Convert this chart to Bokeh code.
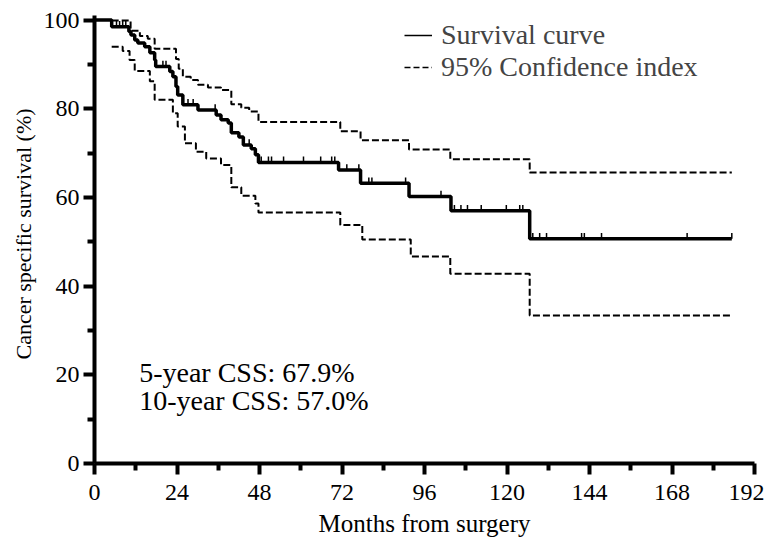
import numpy as np
from bokeh.plotting import figure
from bokeh.models import Range1d, FixedTicker, Legend, LegendItem, Label
from bokeh.embed import file_html
from bokeh.resources import INLINE

# ---- data ----
surv_t = [0, 5.0, 10.0, 10.6, 11.7, 12.6, 14.6, 16.1, 17.5, 17.8, 21.9, 22.8, 23.7, 24.2,
          25.7, 30.1, 35.4, 36.8, 38.9, 39.8, 42.0, 43.3, 45.6, 46.8, 47.7, 71.0, 77.4,
          91.5, 103.7, 126.6, 185.4]
surv_s = [100, 98.5, 97.4, 96.6, 95.5, 94.8, 94.0, 92.6, 91.0, 89.5, 88.4, 87.2, 85.0, 83.1,
          80.9, 79.7, 78.6, 77.5, 76.8, 74.6, 73.6, 71.8, 71.0, 69.6, 67.9, 66.2, 63.2,
          60.2, 57.0, 50.7, 50.7]

upper_t = [5.0, 10.5, 13.2, 15.5, 17.5, 23.7, 24.5, 25.7, 28.0, 30.1, 33.0, 36.8, 39.8,
           42.7, 45.0, 47.7, 71.5, 77.4, 91.5, 103.5, 126.6, 185.4]
upper_s = [99.9, 97.6, 96.4, 95.8, 93.5, 91.2, 89.0, 87.2, 86.5, 85.4, 84.8, 84.2, 81.0,
           80.2, 79.4, 77.0, 74.9, 72.9, 70.8, 68.6, 65.6, 65.6]

lower_t = [5.0, 8.2, 10.2, 11.7, 16.1, 17.5, 22.8, 24.2, 26.3, 29.5, 32.5, 36.8, 39.8,
           42.7, 46.8, 47.7, 71.5, 77.9, 92.0, 103.5, 126.6, 185.4]
lower_s = [94.0, 93.0, 91.0, 88.5, 86.2, 82.0, 79.0, 76.0, 72.2, 70.3, 68.8, 67.3, 62.3,
           60.4, 58.6, 56.6, 53.8, 50.5, 46.7, 42.8, 33.4, 33.4]

censor_t = [6.4, 7.3, 8.2, 9.1, 19.9, 20.8, 27.2, 28.7, 35.1, 45.0, 48.5, 50.6, 51.5, 55.0,
            60.8, 65.8, 69.0, 69.9, 73.4, 76.9, 79.8, 80.7, 90.5, 100.8, 104.7, 106.6,
            108.5, 112.5, 119.8, 123.7, 124.6, 127.5, 129.5, 131.5, 141.7, 142.5, 147.5,
            172.4, 185.4]

x_ticks = [0, 24, 48, 72, 96, 120, 144, 168, 192]
x_minor = [12, 36, 60, 84, 108, 132, 156, 180]
y_ticks = [0, 20, 40, 60, 80, 100]
y_minor = [10, 30, 50, 70, 90]

legend_labels = ["Survival curve", "95% Confidence index"]
notes = ["5-year CSS: 67.9%", "10-year CSS: 57.0%"]
note_y = [20.5, 14.2]

FONT = "Liberation Serif"

p = figure(width=764, height=540, output_backend="svg", toolbar_location=None,
           x_range=Range1d(0, 192), y_range=Range1d(0, 103.5),
           min_border_left=94, min_border_right=10, min_border_top=4, min_border_bottom=77)
p.outline_line_color = None
p.xgrid.visible = False
p.ygrid.visible = False
p.background_fill_color = "white"
p.border_fill_color = "white"

p.xaxis.ticker = FixedTicker(ticks=x_ticks, minor_ticks=x_minor)
p.yaxis.ticker = FixedTicker(ticks=y_ticks, minor_ticks=y_minor)
p.yaxis.bounds = (0, 101)
for ax in (p.xaxis, p.yaxis):
    ax.axis_line_width = 4
    ax.axis_line_color = "black"
    ax.major_tick_line_width = 4
    ax.minor_tick_line_width = 4
    ax.major_tick_line_color = "black"
    ax.minor_tick_line_color = "black"
    ax.major_tick_in = 0
    ax.minor_tick_in = 0
    ax.major_tick_out = 11
    ax.minor_tick_out = 7
    ax.major_label_text_font = FONT
    ax.major_label_text_font_size = "24px"
    ax.major_label_text_color = "black"
    ax.axis_label_text_font = FONT
    ax.axis_label_text_font_style = "normal"
    ax.axis_label_text_color = "black"
p.xaxis.axis_label_text_font_size = "25px"
p.yaxis.axis_label_text_font_size = "22px"
p.xaxis.major_label_standoff = 10
p.yaxis.major_label_standoff = 4
p.xaxis.axis_label = "Months from surgery"
p.yaxis.axis_label = "Cancer specific survival (%)"
p.xaxis.axis_label_standoff = 7
p.yaxis.axis_label_standoff = 5

p.step(upper_t, upper_s, mode="after", line_color="black", line_width=2, line_dash="7 3")
p.step(lower_t, lower_s, mode="after", line_color="black", line_width=2, line_dash="7 3")
p.step(surv_t, surv_s, mode="after", line_color="black", line_width=3.5)

# censor marks: value of the survival step function at each censor time
st = np.array(surv_t)
ss = np.array(surv_s)
idx = np.searchsorted(st, np.array(censor_t), side="right") - 1
cy = ss[idx]
p.segment(x0=censor_t, y0=cy, x1=censor_t, y1=cy + 1.3, line_color="black", line_width=1.5)

# legend-only renderers (a single NaN point, draws nothing) so the legend samples are thin
leg_s = p.line([np.nan], [np.nan], line_color="black", line_width=1.5)
leg_ci = p.line([np.nan], [np.nan], line_color="black", line_width=1.5, line_dash="6 3")

legend = Legend(items=[LegendItem(label=legend_labels[0], renderers=[leg_s]),
                       LegendItem(label=legend_labels[1], renderers=[leg_ci])],
                location=(310, 380), background_fill_alpha=0, border_line_color=None,
                label_text_font=FONT, label_text_font_size="28px",
                glyph_width=28, glyph_height=26, label_height=26, label_standoff=9,
                spacing=0, padding=0, margin=0)
p.add_layout(legend)

for t, y in zip(notes, note_y):
    p.add_layout(Label(x=13, y=y, text=t, text_font=FONT,
                       text_font_size="28px", text_baseline="alphabetic", text_color="black"))

open("out.html", "w").write(file_html(p, INLINE))
